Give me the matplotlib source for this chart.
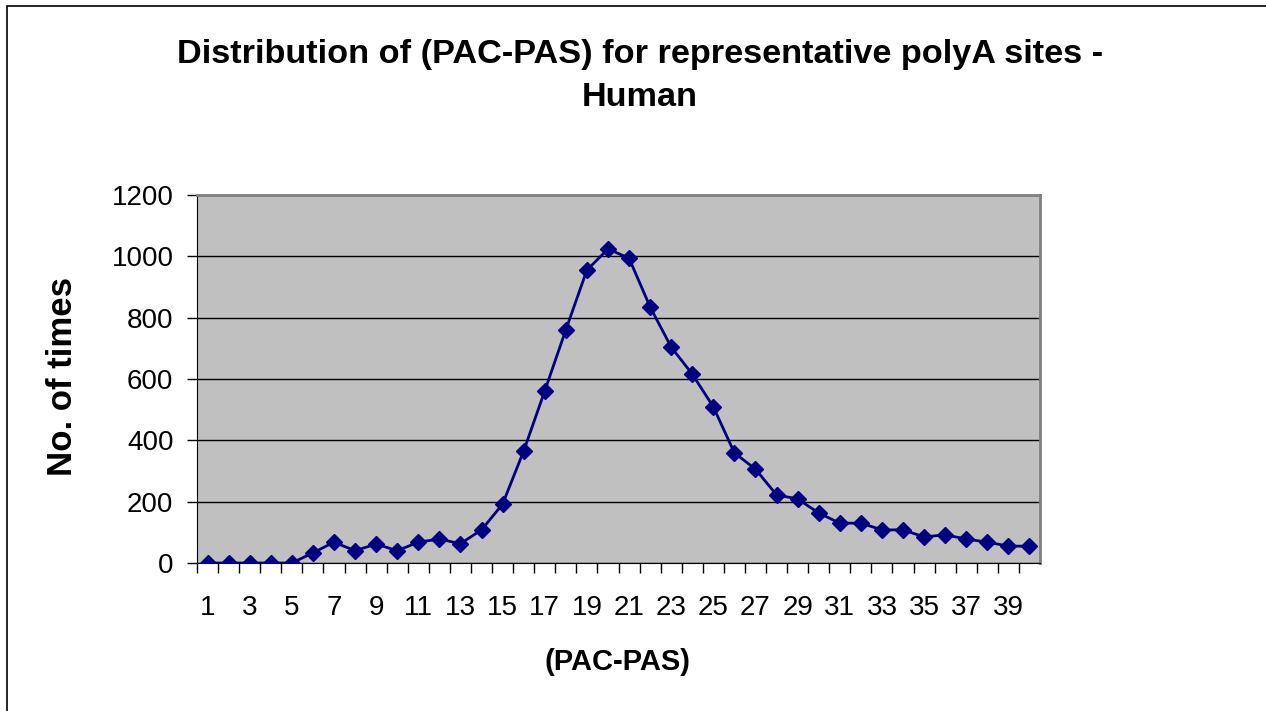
import matplotlib.pyplot as plt
from matplotlib.patches import Rectangle

plt.rcParams["font.family"] = ["Liberation Sans", "DejaVu Sans"]

# (PAC-PAS) distance and counts
pac_pas = list(range(1, 41))
counts = [0, 0, 0, 0, 0, 33, 68, 40, 62, 40,
          68, 78, 63, 108, 192, 365, 561, 760, 955, 1024,
          994, 835, 704, 616, 509, 359, 306, 222, 209, 163,
          130, 130, 108, 108, 85, 92, 78, 68, 55, 55]
y_ticks = [0, 200, 400, 600, 800, 1000, 1200]
x_labels = [str(v) for v in pac_pas[::2]]

W, H = 1266, 711
fig = plt.figure(figsize=(W / 100, H / 100), dpi=100)
# rahmen: nur oben und links sichtbar, rest liegt ausserhalb
fig.patches.append(Rectangle((7 / W, -0.05), 1.1, 1.05 - 6 / H, transform=fig.transFigure,
                             fill=False, edgecolor="black", linewidth=1.2))

ax = fig.add_axes([197 / W, 1 - 563 / H, (1040 - 197) / W, (563 - 195) / H])
ax.set_facecolor("#C0C0C0")
ax.plot(pac_pas, counts, color="#000080", marker="D", markersize=8.5, linewidth=2, zorder=3)

ax.set_xlim(0.5, 40.5)
ax.set_ylim(0, 1200)
ax.set_yticks(y_ticks)
ax.set_xticks(pac_pas[::2], x_labels)
ax.set_xticks([v + 0.5 for v in range(0, 40)], minor=True)
ax.tick_params(axis="x", which="major", length=0, labelsize=20, pad=23)
ax.tick_params(axis="x", which="minor", length=7, width=1)
ax.tick_params(axis="y", length=7, width=1, labelsize=20, pad=10)
ax.grid(axis="y", color="black", linewidth=1)
ax.set_axisbelow(True)
for side in ["top", "right"]:
    ax.spines[side].set_color("#808080")
    ax.spines[side].set_linewidth(2)
for side in ["left", "bottom"]:
    ax.spines[side].set_color("black")

fig.text(617 / W, 1 - 662 / H, "(PAC-PAS)", ha="center", va="center",
         fontsize=21, fontweight="bold")
fig.text(63 / W, 1 - 376 / H, "No. of times", ha="center", va="center",
         rotation=90, fontsize=25, fontweight="bold")
fig.text(640 / W, 1 - 55 / H, "Distribution of (PAC-PAS) for representative polyA sites -",
         ha="center", va="center", fontsize=24.7, fontweight="bold")
fig.text(640 / W, 1 - 98 / H, "Human", ha="center", va="center", fontsize=24.7, fontweight="bold")

fig.savefig("out.png", dpi=100)
